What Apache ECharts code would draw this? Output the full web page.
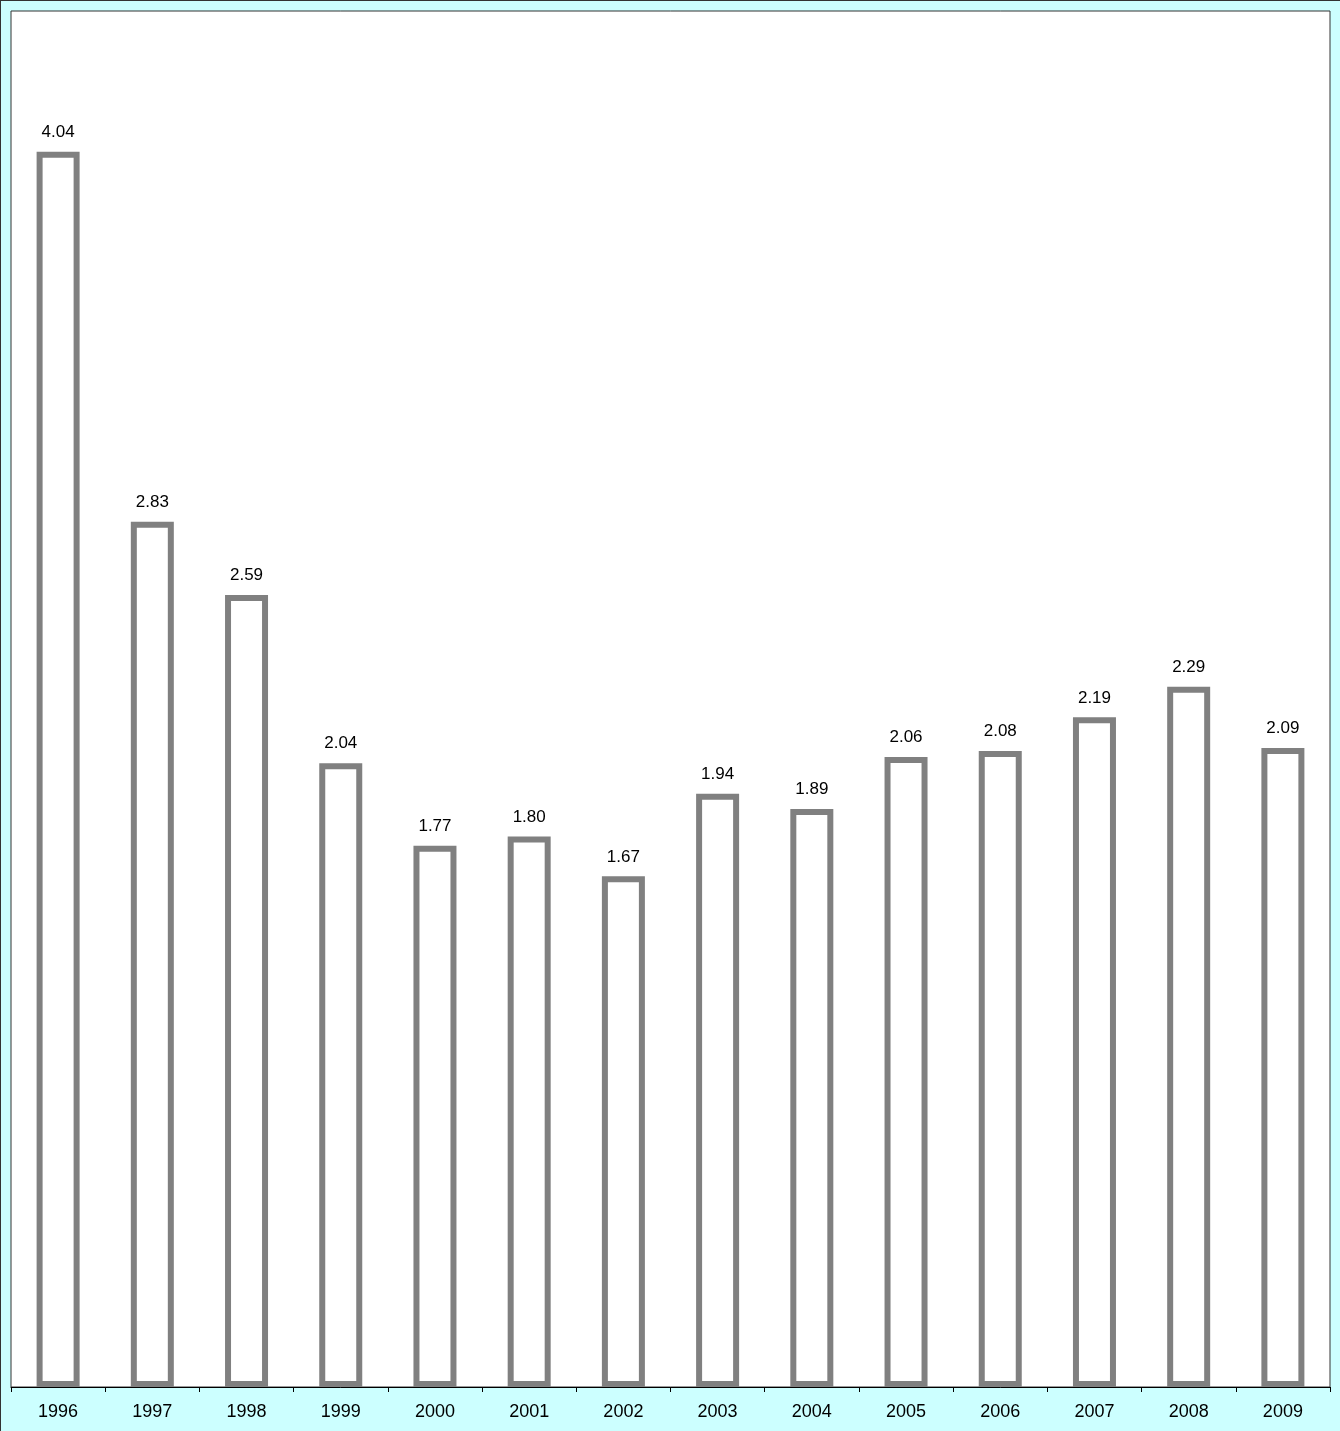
<!DOCTYPE html>
<html>
<head>
<meta charset="utf-8">
<script src="https://cdn.jsdelivr.net/npm/echarts@6/dist/echarts.min.js"></script>
<style>
html,body{margin:0;padding:0;background:#fff;}
#c{width:1340px;height:1431px;box-sizing:border-box;border-top:1px solid #333;border-left:1px solid #333;background:#CCFFFF;}
</style>
</head>
<body>
<div id="c"></div>
<script>
var categories = ['1996','1997','1998','1999','2000','2001','2002','2003','2004','2005','2006','2007','2008','2009'];
var values = [4.04, 2.83, 2.59, 2.04, 1.77, 1.80, 1.67, 1.94, 1.89, 2.06, 2.08, 2.19, 2.29, 2.09];

var chart = echarts.init(document.getElementById('c'), null, {renderer:'canvas'});
chart.setOption({
  animation: false,
  backgroundColor: 'transparent',
  grid: {left: 10, top: 10, right: 10, bottom: 44, show: true, backgroundColor: '#ffffff', borderColor: '#333333', borderWidth: 1},
  xAxis: {
    type: 'category',
    data: categories,
    axisLine: {lineStyle: {color: '#000', width: 1}},
    axisTick: {show: true, length: 5, lineStyle: {color: '#000'}},
    axisLabel: {color: '#000', fontFamily: 'Liberation Sans, Arial, sans-serif', fontSize: 18, margin: 16}
  },
  yAxis: {
    type: 'value', min: 0, max: 4.5, show: false,
    splitLine: {show: false}
  },
  series: [{
    type: 'bar',
    data: values,
    barWidth: 43,
    itemStyle: {color: '#ffffff', borderColor: '#808080', borderWidth: 6},
    label: {
      show: true, position: 'top', distance: 11,
      formatter: function(p){ return p.value.toFixed(2); },
      color: '#000', fontFamily: 'Liberation Sans, Arial, sans-serif', fontSize: 17
    }
  }]
});
</script>
</body>
</html>
